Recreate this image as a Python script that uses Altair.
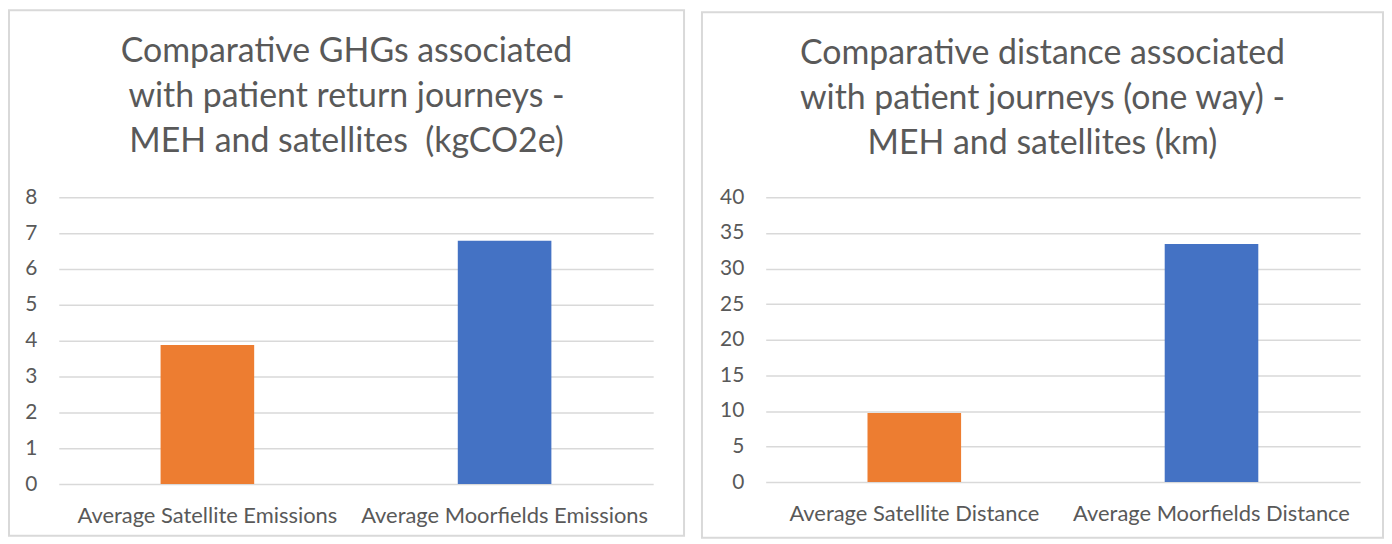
import altair as alt
import pandas as pd

# ---- data ----
left_categories = ["Average Satellite Emissions", "Average Moorfields Emissions"]
left_values = [3.88, 6.79]
right_categories = ["Average Satellite Distance", "Average Moorfields Distance"]
right_values = [9.7, 33.45]
bar_colors = ["#ED7D31", "#4472C4"]

left_title = ["Comparative GHGs associated", "with patient return journeys -", "MEH and satellites \u00a0(kgCO2e)"]
right_title = ["Comparative distance associated", "with patient journeys (one way) -", "MEH and satellites (km)"]
left_ticks = [0, 1, 2, 3, 4, 5, 6, 7, 8]
right_ticks = [0, 5, 10, 15, 20, 25, 30, 35, 40]

FONT = "Lato"
TXT = "#595959"
GRID = "#D9D9D9"


def panel(cats, vals, ticks, title, w, h, box):
    df = pd.DataFrame({"cat": cats, "val": vals, "col": bar_colors})
    bars = alt.Chart(df).mark_bar(size=94).encode(
        x=alt.X("cat:N", sort=cats, title=None,
                scale=alt.Scale(paddingInner=0.685, paddingOuter=0.3425),
                axis=alt.Axis(labelAngle=0, labelFont=FONT, labelFontSize=22,
                              labelColor=TXT, labelPadding=22, labelLimit=0,
                              domain=False, ticks=False, grid=False)),
        y=alt.Y("val:Q", title=None,
                scale=alt.Scale(domain=[ticks[0], ticks[-1]], nice=False),
                axis=alt.Axis(values=ticks, labelFont=FONT, labelFontSize=21,
                              labelColor=TXT, labelPadding=22, domain=False,
                              ticks=False, grid=True, gridColor=GRID,
                              gridWidth=1.5)),
        color=alt.Color("col:N", scale=None, legend=None),
    )
    x0, x1, y0, y1 = box
    border = alt.Chart(alt.Data(values=[{"a": 1}])).mark_rect(
        filled=False, stroke=GRID, strokeWidth=2
    ).encode(x=alt.value(x0), x2=alt.value(x1), y=alt.value(y0), y2=alt.value(y1))
    return alt.layer(border, bars).properties(
        width=w, height=h,
        title=alt.TitleParams(text=title, font=FONT, fontSize=34,
                              fontWeight="normal", color=TXT, lineHeight=45,
                              anchor="middle", frame="bounds", offset=-150),
    )


left = panel(left_categories, left_values, left_ticks, left_title, 597, 288,
             (-50, 628, -188, 340))
right = panel(right_categories, right_values, right_ticks, right_title, 597, 286,
              (-64, 620, -186, 342))

chart = alt.hconcat(left, right, spacing=16, padding=0).configure_view(stroke=None)

chart.save("out.html", embed_options={"renderer": "svg", "actions": False})
